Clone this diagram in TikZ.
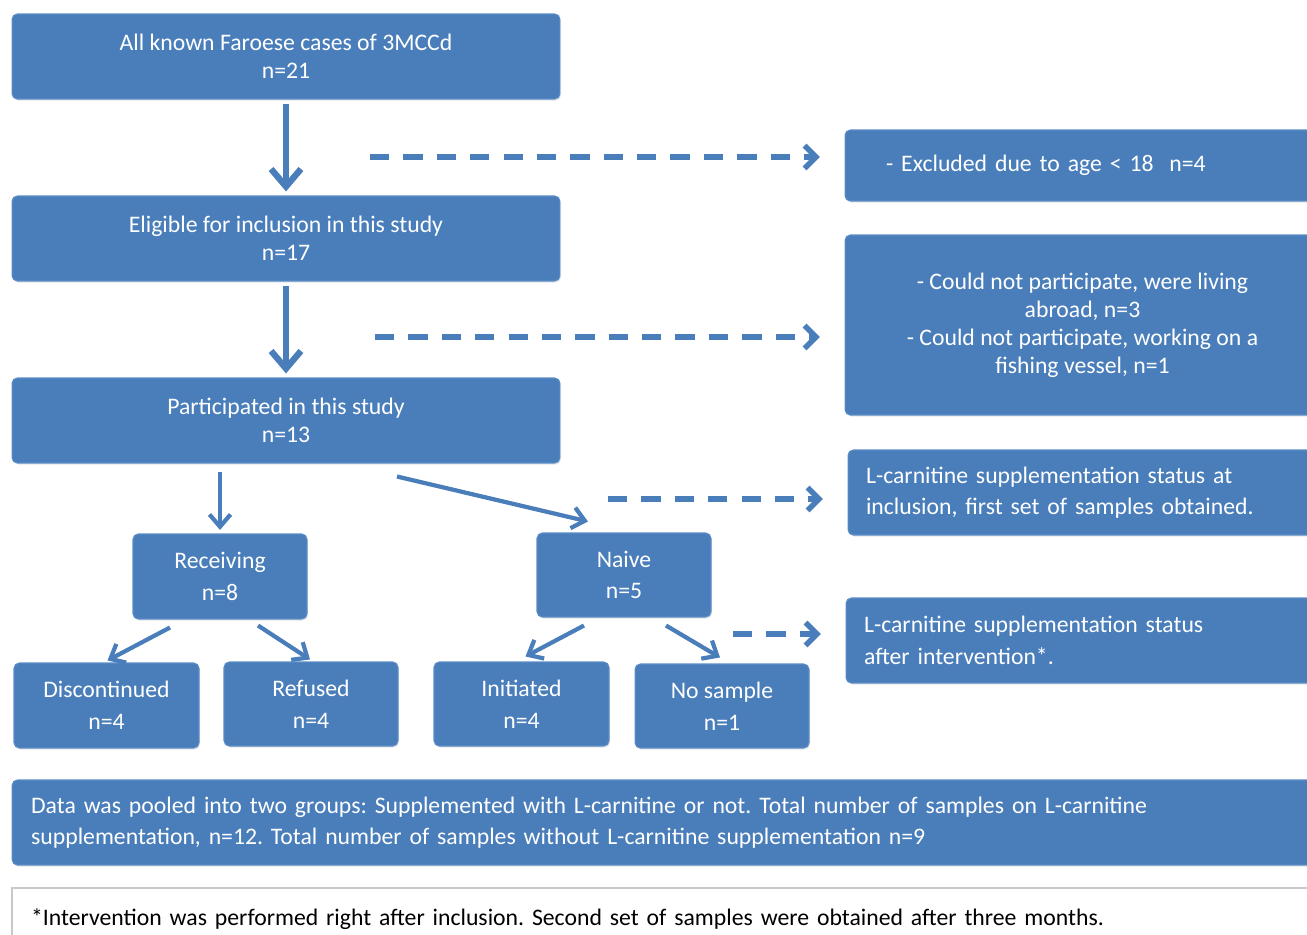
\documentclass[tikz,border=0pt]{standalone}
\usepackage{fontspec}
\setmainfont{Carlito}
\usetikzlibrary{arrows.meta,shadows}
\definecolor{boxblue}{HTML}{4A7EBB}
\definecolor{boxedge}{HTML}{5A8CC6}
\definecolor{noteedge}{HTML}{C8C8C8}
\frenchspacing

\begin{document}
\begin{tikzpicture}[x=0.02cm, y=-0.02cm,
	box/.style={fill=boxblue, draw=boxedge, line width=0.6pt, rounded corners=3pt, text=white,
		inner sep=0pt, align=center, font=\fontsize{13.5}{16}\selectfont,
		drop shadow={shadow xshift=0.6pt, shadow yshift=-0.9pt, opacity=0.2}},
	smallbox/.style={box, font=\fontsize{13.5}{18}\selectfont},
	sidebox/.style={box, align=left, font=\fontsize{13.5}{18}\selectfont},
	mainarrow/.style={boxblue, line width=3.6pt, line join=round, shorten <=2.3pt, shorten >=2.3pt,
		-{Straight Barb[length=10pt, width=17pt]}},
	thinarrow/.style={boxblue, line width=2.4pt, line join=round,
		-{Straight Barb[length=7pt, width=12pt]}},
	dasharrow/.style={boxblue, line width=3.1pt, dash pattern=on 11pt off 8pt, line join=round,
		shorten >=14pt, -{Straight Barb[length=6.5pt, width=13pt]}}
]
	\useasboundingbox (0,0) rectangle (1307,935);

	\node[box, minimum width=10.96cm, minimum height=1.7cm] (all) at (286,56.5) {All known Faroese cases of 3MCCd\\n=21};
	\node[box, minimum width=10.96cm, minimum height=1.7cm] (elig) at (286,238.5) {Eligible for inclusion in this study\\n=17};
	\node[box, minimum width=10.96cm, minimum height=1.7cm] (part) at (286,420.5) {Participated in this study\\n=13};

	\node[sidebox, text width=7.86cm, inner xsep=0.82cm, minimum height=1.42cm] (excl) at (1082.5,165.5) {- Excluded due to age < 18~~n=4};
	\node[box, minimum width=9.5cm, minimum height=3.6cm] (abroad) at (1082.5,325) {- Could not participate, were living\\abroad, n=3\\- Could not participate, working on a\\fishing vessel, n=1};
	\node[sidebox, text width=8.72cm, inner xsep=0.36cm, minimum height=1.7cm] (incl) at (1084,492.5) {L-carnitine supplementation status at\\inclusion, first set of samples obtained.};
	\node[sidebox, text width=8.76cm, inner xsep=0.36cm, minimum height=1.7cm] (after) at (1083,640.5) {L-carnitine supplementation status\\after intervention*.};

	\node[smallbox, minimum width=3.48cm, minimum height=1.7cm] (recv) at (220,576.5) {Receiving\\n=8};
	\node[smallbox, minimum width=3.48cm, minimum height=1.68cm] (naive) at (624,575) {Naive\\n=5};
	\node[smallbox, minimum width=3.7cm, minimum height=1.7cm] (disc) at (106.5,705.5) {Discontinued\\n=4};
	\node[smallbox, minimum width=3.48cm, minimum height=1.68cm] (refu) at (311,704) {Refused\\n=4};
	\node[smallbox, minimum width=3.5cm, minimum height=1.68cm] (init) at (521.5,704) {Initiated\\n=4};
	\node[smallbox, minimum width=3.48cm, minimum height=1.68cm] (nosam) at (722,706) {No sample\\n=1};

	\node[sidebox, text width=25.4cm, inner xsep=0.38cm, minimum height=1.7cm] (pool) at (666,822.5) {Data was pooled into two groups: Supplemented with L-carnitine or not. Total number of samples on L-carnitine\\supplementation, n=12. Total number of samples without L-carnitine supplementation n=9};
	\node[draw=noteedge, line width=0.8pt, fill=white, align=left, inner sep=0pt, inner xsep=0.38cm,
		text width=25.4cm, minimum height=1.24cm, font=\fontsize{13.5}{16}\selectfont] (note) at (666,919)
		{*Intervention was performed right after inclusion. Second set of samples were obtained after three months.};

	\draw[mainarrow] (all) -- (elig);
	\draw[mainarrow] (elig) -- (part);

	\coordinate (d1) at (370,157);
	\coordinate (d2) at (375,337);
	\coordinate (d3) at (608,499);
	\coordinate (d4) at (733,634);
	\draw[dasharrow] (d1) -- (excl.west |- d1);
	\draw[dasharrow] (d2) -- (abroad.west |- d2);
	\draw[dasharrow] (d3) -- (incl.west |- d3);
	\draw[dasharrow] (d4) -- (after.west |- d4);

	\draw[thinarrow] ([yshift=-5pt]recv.north |- part.south) -- ([yshift=2pt]recv.north);
	\draw[thinarrow] ([shift={(111,13)}]part.south) -- ([shift={(-36,-11)}]naive.north);
	\draw[thinarrow] ([shift={(-50,8)}]recv.south) -- ([shift={(1,-2)}]disc.north);
	\draw[thinarrow] ([shift={(38,6)}]recv.south) -- ([shift={(-1,-2)}]refu.north);
	\draw[thinarrow] ([shift={(-40,8)}]naive.south) -- ([shift={(4,-5)}]init.north);
	\draw[thinarrow] ([shift={(42,8)}]naive.south) -- ([shift={(-2,-6)}]nosam.north);
\end{tikzpicture}
\end{document}
